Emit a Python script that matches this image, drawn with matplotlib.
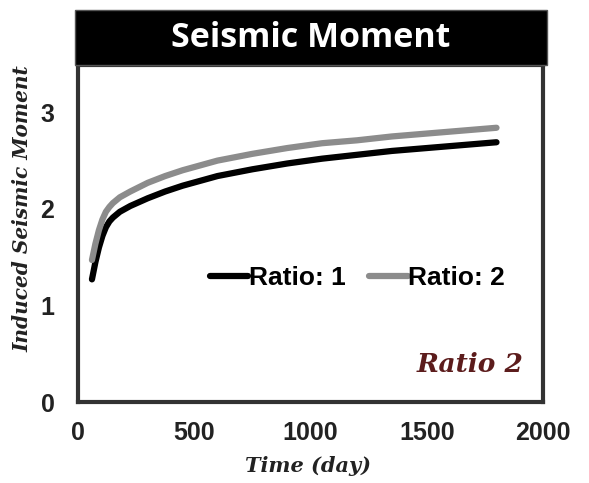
import matplotlib.pyplot as plt
from matplotlib.patches import Rectangle

# time in days and induced seismic moment for the two ratios
time_days = [60, 75, 90, 105, 120, 135, 150, 180, 225, 300, 375, 450, 600,
             750, 900, 1050, 1200, 1350, 1500, 1650, 1800]
ratio_1 = [1.27, 1.45, 1.60, 1.72, 1.81, 1.87, 1.91, 1.97, 2.03, 2.11, 2.18, 2.24, 2.34,
           2.41, 2.47, 2.52, 2.56, 2.60, 2.63, 2.66, 2.69]
ratio_2 = [1.47, 1.64, 1.78, 1.89, 1.97, 2.02, 2.06, 2.12, 2.18, 2.27, 2.34, 2.40, 2.50,
           2.57, 2.63, 2.68, 2.71, 2.75, 2.78, 2.81, 2.84]

x_ticks = [0, 500, 1000, 1500, 2000]
y_ticks = [0, 1, 2, 3]

W, H = 589, 483
fig = plt.figure(figsize=(W / 100, H / 100), dpi=100)

ax = fig.add_axes([78 / W, 1 - 402 / H, (543 - 78) / W, (402 - 65) / H])
ax.plot(time_days, ratio_1, color="black", lw=4.5, solid_capstyle="round",
        solid_joinstyle="round", label="Ratio: 1")
ax.plot(time_days, ratio_2, color="#8c8c8c", lw=4.5, solid_capstyle="round",
        solid_joinstyle="round", label="Ratio: 2")

ax.set_xlim(0, 2000)
ax.set_ylim(0, 3.49)
ax.set_xticks(x_ticks)
ax.set_yticks(y_ticks)
for sp in ax.spines.values():
    sp.set_linewidth(3)
    sp.set_color("#333333")
ax.tick_params(length=0, labelsize=18)
ax.tick_params(axis="x", pad=14)
ax.tick_params(axis="y", pad=17)
for lab in ax.get_xticklabels() + ax.get_yticklabels():
    lab.set_fontfamily("Liberation Sans")
    lab.set_fontweight("bold")
    lab.set_color("#222222")

ax.legend(loc="center", bbox_to_anchor=(0.601, 0.368), ncol=2, frameon=False,
          prop={"family": "Liberation Sans", "weight": "bold", "size": 19},
          handlelength=1.45, handletextpad=0.02, columnspacing=0.9)

# black title band on top of the plot box
band = Rectangle((75 / W, 1 - 65 / H), (547 - 75) / W, 55 / H, transform=fig.transFigure,
                 facecolor="black", edgecolor="#555555", lw=1)
fig.patches.append(band)
fig.text(311 / W, 1 - 38 / H, "Seismic Moment", color="white", fontsize=24.5,
         fontfamily="Open Sans", fontweight="bold", ha="center", va="center")

fig.text(22 / W, 1 - 209 / H, "Induced Seismic Moment", rotation=90, fontsize=14.5,
         fontfamily="DejaVu Serif", style="italic", fontweight="bold", color="#222222",
         ha="center", va="center")
fig.text(308 / W, 1 - 466 / H, "Time (day)", fontsize=15,
         fontfamily="DejaVu Serif", style="italic", fontweight="bold", color="#222222",
         ha="center", va="center")
fig.text(470 / W, 1 - 364 / H, "Ratio 2", fontsize=19,
         fontfamily="DejaVu Serif", style="italic", fontweight="bold", color="#5c1c1c",
         ha="center", va="center")

fig.savefig("out.png", dpi=100)
